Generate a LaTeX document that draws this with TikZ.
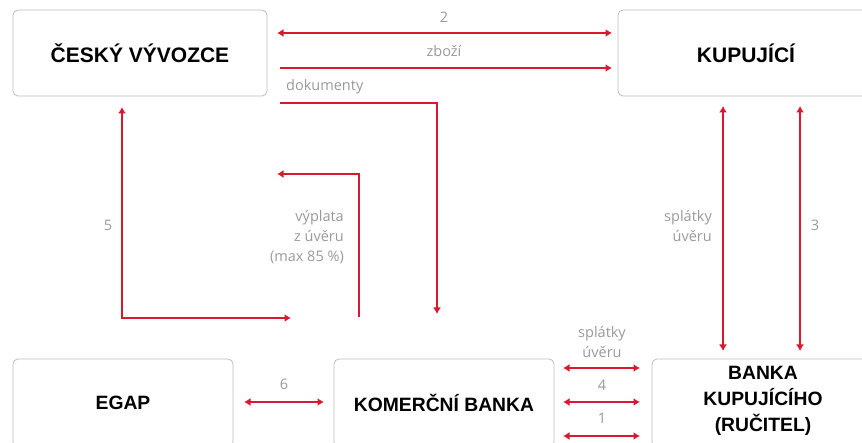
\documentclass[tikz,border=0pt]{standalone}
\usepackage{fontspec}
\setmainfont{Open Sans}
\newfontfamily\titlefont{Liberation Sans}
\usetikzlibrary{arrows.meta}
\definecolor{kbred}{HTML}{D9192F}
\definecolor{lblgray}{HTML}{9A9A9A}
\definecolor{boxgray}{HTML}{BDBDBD}
\tikzset{
  box/.style={draw=boxgray, line width=0.8pt, rounded corners=5pt, inner sep=0pt, align=center},
  toptitle/.style={font=\titlefont\bfseries\fontsize{21}{26}\selectfont},
  bottitle/.style={font=\titlefont\bfseries\fontsize{19.3}{26}\selectfont},
  flow/.style={draw=kbred, line width=2.3pt, -{Latex[length=6.5pt,width=8pt]}},
  flowboth/.style={draw=kbred, line width=2.3pt, {Latex[length=6.5pt,width=8pt]}-{Latex[length=6.5pt,width=8pt]}},
  lbl/.style={text=lblgray, font=\fontsize{14.5}{20}\selectfont, inner sep=0pt}
}
\begin{document}
\begin{tikzpicture}[x=1pt,y=-1pt]
\useasboundingbox (0,0) rectangle (862,443);
\clip (0,0) rectangle (862,443);
\fill[white] (0,0) rectangle (862,443);
% boxes
\node[box, toptitle, minimum width=254pt, minimum height=86pt] (cv) at (140,53) {ČESKÝ VÝVOZCE};
\node[box, toptitle, minimum width=256pt, minimum height=86pt] (kup) at (746,53) {KUPUJÍCÍ};
\node[box, bottitle, minimum width=220pt, minimum height=88pt] (egap) at (123,403) {EGAP};
\node[box, bottitle, minimum width=220pt, minimum height=88pt] (kb) at (444,403) {KOMERČNÍ BANKA};
\node[box, minimum width=222pt, minimum height=88pt] (bk) at (763,403) {};
\node[bottitle, align=center] (bktext) at (763,401) {BANKA\\KUPUJÍCÍHO\\(RUČITEL)};
% coordinates
\coordinate (a2l) at (277,33);   \coordinate (a2r) at (612,33);
\coordinate (zl)  at (280,68);   \coordinate (zr)  at (612,68);
\coordinate (dl)  at (280,103);  \coordinate (dc)  at (437,103); \coordinate (dd) at (437,314);
\coordinate (vs)  at (359,317);  \coordinate (vc)  at (359,174); \coordinate (ve) at (277,174);
\coordinate (fa)  at (122,107);  \coordinate (fc)  at (122,318); \coordinate (fb) at (291,318);
\coordinate (s1t) at (723,106);  \coordinate (s1b) at (723,351);
\coordinate (s3t) at (800,106);  \coordinate (s3b) at (800,351);
\coordinate (e6l) at (244,402);  \coordinate (e6r) at (324,402);
\coordinate (k1l) at (563,368);  \coordinate (k1r) at (640,368);
\coordinate (k2l) at (563,402);  \coordinate (k2r) at (640,402);
\coordinate (k3l) at (563,436);  \coordinate (k3r) at (640,436);
% connectors
\draw[flowboth] (a2l) -- (a2r);
\draw[flow] (zl) -- (zr);
\draw[flow] (dl) -- (dc) -- (dd);
\draw[flow] (vs) -- (vc) -- (ve);
\draw[flowboth] (fa) -- (fc) -- (fb);
\draw[flowboth] (s1t) -- (s1b);
\draw[flowboth] (s3t) -- (s3b);
\draw[flowboth] (e6l) -- (e6r);
\draw[flowboth] (k1l) -- (k1r);
\draw[flowboth] (k2l) -- (k2r);
\draw[flowboth] (k3l) -- (k3r);
% labels
\node[lbl] (l2) at (444,17) {2};
\node[lbl] (lz) at (444,51) {zboží};
\node[lbl, anchor=west] (ld) at (286,87) {dokumenty};
\node[lbl, anchor=east, align=right] (lv) at (344,237) {výplata\\z úvěru\\(max 85 \%)};
\node[lbl] (l5) at (108,225) {5};
\node[lbl, anchor=east, align=right] (ls) at (712,226) {splátky\\úvěru};
\node[lbl] (l3) at (815,225) {3};
\node[lbl] (l6) at (284,384) {6};
\node[lbl, align=center] (lsk) at (602,342) {splátky\\úvěru};
\node[lbl] (l4) at (602,385) {4};
\node[lbl] (l1) at (602,418) {1};
\end{tikzpicture}
\end{document}
